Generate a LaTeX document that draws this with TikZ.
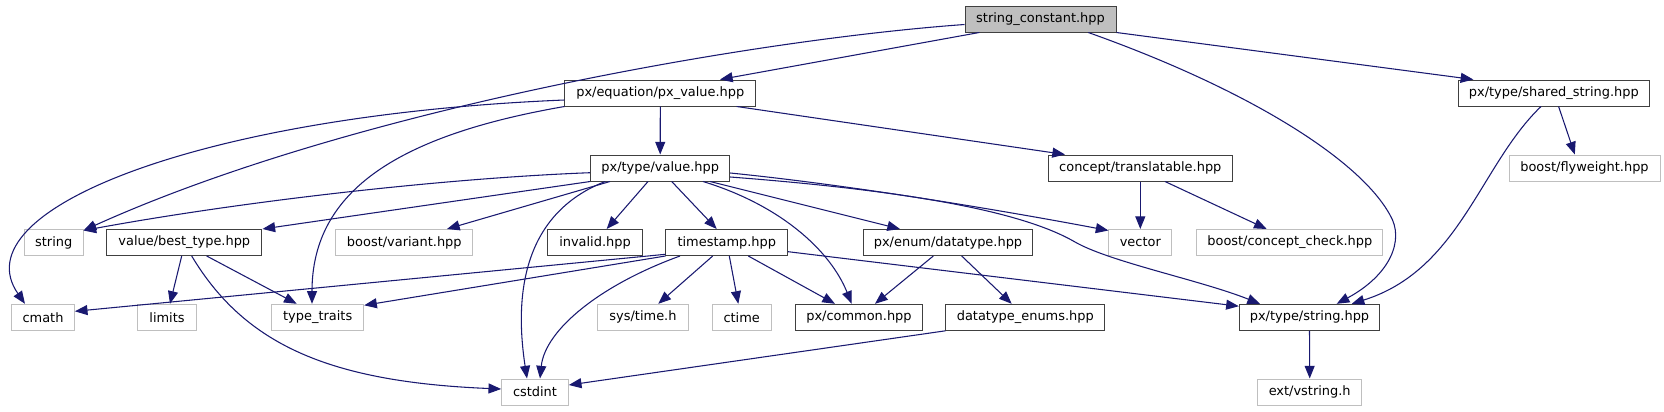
\documentclass[tikz,border=0pt]{standalone}
\usepackage{fontspec}
\setmainfont{DejaVu Sans}
\usetikzlibrary{arrows.meta}
\definecolor{edgec}{HTML}{191970}
\definecolor{darkb}{HTML}{404040}
\definecolor{lightb}{HTML}{BFBFBF}
\begin{document}
\begin{tikzpicture}[x=0.75pt,y=-0.75pt,
  every node/.style={font=\fontsize{9.7}{11.6}\selectfont, inner sep=0pt, minimum height=19.5pt, line width=0.75pt},
  intbox/.style={draw=darkb, fill=white},
  extbox/.style={draw=lightb, fill=white},
  rootbox/.style={draw=darkb, fill=lightb},
  e/.style={draw=edgec, line width=0.8pt, -{Triangle[length=9.5pt,width=7.5pt]}}]
\useasboundingbox (0,0) rectangle (1664,411);
% row 0
\node[rootbox, minimum width=113.25pt] (root) at (1040.5,19) {string\_constant.hpp};
% row 1
\node[intbox, minimum width=143pt] (pxv) at (660.3,93) {px/equation/px\_value.hpp};
\node[intbox, minimum width=143.25pt] (shs) at (1553.8,93) {px/type/shared\_string.hpp};
% row 2
\node[intbox, minimum width=104.25pt] (vt) at (660.2,168) {px/type/value.hpp};
\node[intbox, minimum width=138pt] (ct) at (1140.3,168) {concept/translatable.hpp};
\node[extbox, minimum width=113.25pt] (fly) at (1584.5,168) {boost/flyweight.hpp};
% row 3
\node[extbox, minimum width=44pt] (str) at (53.7,242.5) {string};
\node[intbox, minimum width=116.5pt] (bt) at (184.3,242.5) {value/best\_type.hpp};
\node[extbox, minimum width=102.5pt] (var) at (404.3,242.5) {boost/variant.hpp};
\node[intbox, minimum width=71.5pt] (inv) at (595,242.5) {invalid.hpp};
\node[intbox, minimum width=91.25pt] (ts) at (726.8,242.5) {timestamp.hpp};
\node[intbox, minimum width=127pt] (dt) at (948,242.5) {px/enum/datatype.hpp};
\node[extbox, minimum width=47pt] (vec) at (1140.3,242.5) {vector};
\node[extbox, minimum width=139.75pt] (cc) at (1289.8,242.5) {boost/concept\_check.hpp};
% row 4
\node[extbox, minimum width=47pt] (cm) at (43,317.3) {cmath};
\node[extbox, minimum width=44pt] (lim) at (167,317.3) {limits};
\node[extbox, minimum width=69pt] (tt) at (317.7,317.3) {type\_traits};
\node[extbox, minimum width=68pt] (sys) at (643,317.3) {sys/time.h};
\node[extbox, minimum width=44pt] (ctm) at (741.7,317.3) {ctime};
\node[intbox, minimum width=95pt] (com) at (859,317.3) {px/common.hpp};
\node[intbox, minimum width=119pt] (de) at (1025.3,317.3) {datatype\_enums.hpp};
\node[intbox, minimum width=105.25pt] (pts) at (1309.5,317.3) {px/type/string.hpp};
% row 5
\node[extbox, minimum width=50pt] (cst) at (535,392) {cstdint};
\node[extbox, minimum width=78pt] (vs) at (1309.7,392) {ext/vstring.h};

% edges from root
\draw[e] ([shift={(-61.2,0)}]root.south) -- ([shift={(59.7,0)}]pxv.north);
\draw[e] ([shift={(0,5.5)}]root.west) .. controls (750,40) and (350,110) .. ([shift={(0,1.5)}]str.north east);
\draw[e] (root.south east) -- ([shift={(-80.5,0)}]shs.north);
\draw[e] ([shift={(47.8,0)}]root.south) .. controls (1250,90) and (1360,160) .. (1390,215)
   .. controls (1405,240) and (1390,275) .. ([shift={(27.2,0)}]pts.north);
% shared_string
\draw[e] ([shift={(-12.8,0)}]shs.south) .. controls (1480,165) and (1460,270) .. ([shift={(42.2,0)}]pts.north);
\draw[e] ([shift={(4.8,0)}]shs.south) -- ([shift={(-9.7,0)}]fly.north);
% px_value
\draw[e] (pxv.south) -- (vt.north);
\draw[e] ([shift={(76.4,0)}]pxv.south) -- ([shift={(-75.3,0)}]ct.north);
\draw[e] ([shift={(0,7)}]pxv.west) .. controls (200,115) and (-40,210) .. ([shift={(-18,0)}]cm.north);
\draw[e] (pxv.south west) .. controls (400,135) and (312,190) .. ([shift={(-5.7,0)}]tt.north);
% value
\draw[e] ([shift={(0,4.7)}]vt.west) .. controls (450,178) and (250,200) .. ([shift={(0,1.5)}]str.north east);
\draw[e] (vt.south west) -- (bt.north east);
\draw[e] ([shift={(-50.2,0)}]vt.south) -- ([shift={(42.7,0)}]var.north);
\draw[e] ([shift={(-12.2,0)}]vt.south) -- ([shift={(11.7,0)}]inv.north);
\draw[e] ([shift={(11.5,0)}]vt.south) -- ([shift={(-10.1,0)}]ts.north);
\draw[e] ([shift={(-55,0)}]vt.south) .. controls (520,215) and (515,300) .. ([shift={(-8,0)}]cst.north);
\draw[e] ([shift={(42.8,0)}]vt.south) .. controls (780,205) and (830,250) .. ([shift={(-7.3,0)}]com.north);
\draw[e] ([shift={(49.8,0)}]vt.south) -- ([shift={(-48,0)}]dt.north);
\draw[e] ([shift={(0,5)}]vt.east) .. controls (850,185) and (1000,210) .. ([shift={(0,1.5)}]vec.north west);
\draw[e] ([shift={(0,9)}]vt.east) .. controls (900,190) and (1020,210) .. (1075,242)
   .. controls (1110,262) and (1200,280) .. ([shift={(-49.5,0)}]pts.north);
% concept
\draw[e] (ct.south) -- (vec.north);
\draw[e] ([shift={(24.7,0)}]ct.south) -- ([shift={(-23.1,0)}]cc.north);
% best_type
\draw[e] ([shift={(-2.6,0)}]bt.south) -- ([shift={(3,0)}]lim.north);
\draw[e] ([shift={(22.4,0)}]bt.south) -- ([shift={(-21,0)}]tt.north);
\draw[e] ([shift={(7.4,0)}]bt.south) .. controls (245,345) and (330,382) .. ([shift={(0,-3)}]cst.west);
% timestamp
\draw[e] ([shift={(0,11.8)}]ts.west) -- ([shift={(0,-6)}]cm.east);
\draw[e] (ts.south west) -- ([shift={(0,1.5)}]tt.north east);
\draw[e] ([shift={(-46.8,0)}]ts.south) .. controls (600,285) and (545,330) .. ([shift={(5,0)}]cst.north);
\draw[e] ([shift={(-14.1,0)}]ts.south) -- ([shift={(15.3,0)}]sys.north);
\draw[e] ([shift={(2.5,0)}]ts.south) -- ([shift={(-3.4,0)}]ctm.north);
\draw[e] ([shift={(21.5,0)}]ts.south) -- ([shift={(-24,0)}]com.north);
\draw[e] ([shift={(0,9.2)}]ts.east) -- ([shift={(0,2.4)}]pts.north west);
% datatype
\draw[e] ([shift={(-14.7,0)}]dt.south) -- ([shift={(16,0)}]com.north);
\draw[e] ([shift={(13.7,0)}]dt.south) -- ([shift={(-13.6,0)}]de.north);
\draw[e] (de.south west) -- ([shift={(0,-7)}]cst.east);
% string
\draw[e] (pts.south) -- (vs.north);
\end{tikzpicture}
\end{document}
